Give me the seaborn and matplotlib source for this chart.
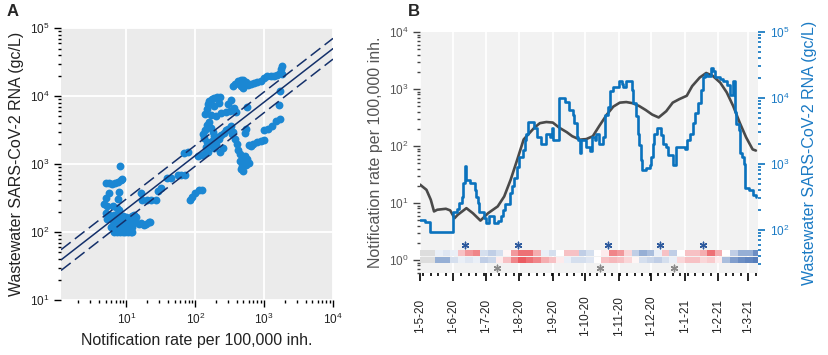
import numpy as np
import pandas as pd
import matplotlib
matplotlib.use("Agg")
import matplotlib.pyplot as plt
import matplotlib.dates as mdates
from matplotlib.colors import LinearSegmentedColormap
from matplotlib.ticker import LogLocator, LogFormatterMathtext, NullFormatter
import seaborn as sns

# ---- panel A: notification rate vs wastewater RNA ----
rate_a = [5.0, 5.6, 6.2, 6.9, 7.6, 8.3, 8.6, 8.0,
          7.7, 5.6, 5.1, 7.6, 4.8, 5.3, 6.4, 7.2, 7.9,
          5.0, 5.6, 6.0, 6.6, 7.3, 8.2, 9.0, 10, 11, 12, 13, 14,
          5.3, 6.1, 6.8, 7.5, 8.4, 9.4, 10.5, 11.5, 12.5, 13.5, 15, 16.5, 18, 19.5, 21, 22,
          6.0, 7.0, 8.0, 9.0, 10, 11, 12,
          6.5, 7.2, 8.0, 8.8, 9.6, 10.5, 11.5, 12.2,
          16.5, 17, 20, 23, 27, 29, 32, 39, 45, 56, 63, 70, 68, 78, 85, 90, 100, 113, 125,
          140, 150, 155, 160, 175, 190, 210, 230, 220, 190, 170, 200, 240, 280, 320, 300, 330, 360, 390,
          110, 125, 140, 145, 150, 135, 130, 140, 150, 160, 170, 180, 190, 175, 160, 200, 220, 240, 260,
          280, 300, 330, 350, 250, 230, 210, 190, 155,
          340, 380, 400, 420, 450, 480, 500, 470, 440, 520, 560, 600, 550, 500, 460, 600, 650, 700, 800,
          900, 1000, 520, 540, 560,
          1000, 1150, 1300, 1500, 1700, 1650, 1700,
          350, 380, 420, 460, 500, 540, 460, 500, 580, 640, 720, 800, 900, 1000, 1100, 1250, 1400, 1550,
          1700, 1750, 1800, 1800]
rna_a = [520, 520, 510, 520, 540, 580, 600, 950,
         390, 370, 320, 310, 260, 240, 240, 225, 210,
         190, 180, 170, 175, 165, 160, 170, 165, 160, 170, 175, 165,
         155, 150, 145, 140, 135, 140, 135, 130, 135, 140, 130, 135, 125, 130, 140, 140,
         120, 115, 120, 125, 115, 120, 118,
         100, 100, 100, 100, 100, 100, 100, 100,
         370, 295, 300, 295, 295, 400, 450, 620, 620, 690, 690, 680, 1450, 1480, 300, 330, 380, 410, 410,
         5500, 6500, 7600, 8500, 9000, 9500, 9800, 9600, 8000, 7200, 5200, 5100, 5600, 5800, 6000, 7600, 8600, 6600, 5800,
         1300, 1350, 1450, 1800, 2100, 2400, 2800, 3200, 3700, 4200, 3400, 3000, 2600, 2200, 1900, 2000, 2300, 2700, 2900,
         3200, 3300, 3600, 3000, 1700, 1500, 2500, 1700, 1500,
         2800, 2300, 2000, 1600, 1400, 1200, 1100, 950, 1100, 1300, 1200, 1050, 980, 800, 850, 1900, 1850, 1950, 2100,
         2200, 2250, 2900, 3300, 6900,
         3200, 3300, 3600, 4300, 4600, 7400, 12000,
         14000, 15000, 16500, 17500, 17000, 16000, 14000, 13000, 14500, 15000, 15500, 16000, 16500, 18500, 19500, 20000, 19500, 20500,
         22000, 25000, 28000, 21000]
# log-log fit: log10(rna) = intercept + slope * log10(rate), with CI offsets
fit_intercept = 1.55
fit_slope = 0.787
ci_up = 0.15
ci_low = -0.155

# ---- panel B: time series ----
notif_dates = ['2020-05-01', '2020-05-07', '2020-05-11', '2020-05-14', '2020-05-17', '2020-05-25',
               '2020-05-29', '2020-06-02', '2020-06-05', '2020-06-13', '2020-06-19', '2020-06-26',
               '2020-07-03', '2020-07-12', '2020-07-18', '2020-07-24', '2020-07-30', '2020-08-05',
               '2020-08-15', '2020-08-20', '2020-08-26', '2020-09-01', '2020-09-07', '2020-09-14',
               '2020-09-19', '2020-09-26', '2020-10-02', '2020-10-08', '2020-10-14', '2020-10-21',
               '2020-10-27', '2020-11-02', '2020-11-08', '2020-11-14', '2020-11-20', '2020-11-26',
               '2020-12-02', '2020-12-08', '2020-12-15', '2020-12-21', '2020-12-27', '2021-01-03',
               '2021-01-08', '2021-01-15', '2021-01-21', '2021-01-27', '2021-02-03', '2021-02-09',
               '2021-02-15', '2021-02-21', '2021-02-27', '2021-03-05', '2021-03-08']
notif_vals = [21, 17, 11.4, 7.1, 7.6, 7.9,
              7.4, 5.4, 6.2, 8.1, 6.6, 4.9,
              6.6, 8.7, 13, 25.7, 57, 130,
              210, 251, 263, 257, 209, 174,
              148, 129, 132, 148, 224, 355,
              490, 575, 589, 562, 501, 427,
              355, 316, 407, 575, 661, 759,
              1120, 1585, 1905, 1700, 1290, 871,
              501, 257, 141, 87, 83]

ww_dates = ['2020-05-01', '2020-05-06', '2020-05-10', '2020-06-01', '2020-06-04', '2020-06-06',
            '2020-06-09', '2020-06-10', '2020-06-12', '2020-06-13', '2020-06-16', '2020-06-21',
            '2020-06-22', '2020-06-24', '2020-06-25', '2020-06-29', '2020-07-01', '2020-07-04',
            '2020-07-09', '2020-07-12', '2020-07-15', '2020-07-17', '2020-07-19', '2020-07-23',
            '2020-07-25', '2020-07-27', '2020-07-30', '2020-08-01', '2020-08-04', '2020-08-06',
            '2020-08-07', '2020-08-09', '2020-08-15', '2020-08-17', '2020-08-21', '2020-08-26',
            '2020-08-29', '2020-08-31', '2020-09-01', '2020-09-07', '2020-09-12', '2020-09-16',
            '2020-09-20', '2020-09-21', '2020-09-23', '2020-09-24', '2020-09-26', '2020-09-27',
            '2020-10-02', '2020-10-05', '2020-10-07', '2020-10-10', '2020-10-11', '2020-10-14',
            '2020-10-17', '2020-10-19', '2020-10-22', '2020-10-24', '2020-10-27', '2020-11-01',
            '2020-11-04', '2020-11-05', '2020-11-08', '2020-11-13', '2020-11-14', '2020-11-17',
            '2020-11-19', '2020-11-20', '2020-11-22', '2020-11-23', '2020-11-26', '2020-11-30',
            '2020-12-01', '2020-12-03', '2020-12-04', '2020-12-06', '2020-12-10', '2020-12-12',
            '2020-12-15', '2020-12-17', '2020-12-21', '2020-12-23', '2020-12-24', '2021-01-01',
            '2021-01-03', '2021-01-06', '2021-01-09', '2021-01-11', '2021-01-13', '2021-01-16',
            '2021-01-18', '2021-01-20', '2021-01-22', '2021-01-25', '2021-01-27', '2021-01-29',
            '2021-02-03', '2021-02-06', '2021-02-09', '2021-02-12', '2021-02-15', '2021-02-17',
            '2021-02-18', '2021-02-20', '2021-02-21', '2021-02-23', '2021-02-25', '2021-02-26',
            '2021-03-02', '2021-03-05', '2021-03-08']
ww_vals = [141, 130, 94, 190, 205, 257,
           316, 513, 933, 575, 513, 407,
           316, 257, 190, 151, 126, 162,
           126, 135, 162, 200, 251, 363,
           457, 603, 912, 1290, 1620, 2290,
           2880, 4370, 3470, 2570, 2040, 2880,
           2570, 3470, 2290, 10000, 8710, 6610,
           5500, 4170, 2570, 2290, 1450, 2290,
           1820, 1550, 2570, 2290, 2880, 2000,
           2570, 5500, 7410, 12600, 14800, 17800,
           16200, 14800, 17800, 13200, 8320, 5250,
           2880, 1950, 1150, 813, 870, 950,
           1290, 2040, 2880, 3470, 2750, 2040,
           1820, 1380, 955, 955, 1820, 1700,
           2290, 2880, 4170, 5890, 8320, 13200,
           20900, 23400, 21400, 28200, 25700, 20900,
           19500, 17800, 15800, 11200, 17800, 6200,
           4000, 3300, 1480, 1260, 1000, 437,
           400, 340, 320]

# weekly cross-correlation strips (NaN = no data)
strip_start = '2020-05-01'
strip_top = [np.nan, np.nan, -0.1, -0.15, -0.1, 0.3, 0.5, 0.6, -0.2, -0.3,
             -0.2, 0.05, 0.5, 0.7, 0.7, 0.4, -0.1, -0.2, 0.0, 0.3,
             0.3, -0.3, -0.2, 0.0, 0.1, 0.6, 0.5, 0.2, -0.3, -0.5,
             -0.4, -0.1, 0.3, -0.3, 0.0, 0.3, 0.3, 0.4, 0.7, 0.4,
             0.0, -0.3, -0.5, -0.5, -0.7]
strip_bottom = [np.nan, np.nan, -0.5, -0.5, -0.2, -0.1, -0.15, -0.1, -0.3, -0.25,
                0.1, 0.3, 0.6, 0.8, 0.7, 0.6, 0.4, 0.3, 0.1, -0.1,
                -0.2, -0.2, -0.15, 0.0, 0.3, 0.35, 0.3, 0.2, 0.05, -0.2,
                -0.25, -0.3, -0.2, -0.1, 0.2, 0.3, 0.3, 0.2, 0.25, 0.1,
                -0.4, -0.6, -0.7, -0.75, -0.8]
star_blue_dates = ['2020-06-12', '2020-07-31', '2020-10-22', '2020-12-09', '2021-01-18']
star_gray_dates = ['2020-07-11', '2020-10-15', '2020-12-22']

# colours
c_scatter = '#1b87d3'
c_fit = '#14306a'
c_ww = '#0a72bd'
c_notif = '#4a4a4a'
c_label_ww = '#1a7ac4'

sns.set_theme(style="white")
plt.rcParams['font.family'] = ['Liberation Sans', 'DejaVu Sans']
plt.rcParams['xtick.direction'] = 'out'
plt.rcParams['ytick.direction'] = 'out'

fig = plt.figure(figsize=(8.29, 3.55), dpi=100)
axA = fig.add_axes([0.0736, 0.155, 0.3281, 0.766])
axB = fig.add_axes([0.5066, 0.231, 0.4078, 0.679])

# ---------- panel A ----------
axA.set_facecolor('#ebebeb')
sns.scatterplot(x=rate_a, y=rna_a, ax=axA, color=c_scatter, s=32,
                linewidth=0, zorder=3, legend=False)
axA.set_xscale('log')
axA.set_yscale('log')
axA.set_xlim(10 ** 0.05, 1e4)
axA.set_ylim(10, 1e5)
lx = np.log10(np.array(axA.get_xlim()))
fx = 10 ** lx
axA.plot(fx, 10 ** (fit_intercept + fit_slope * lx), color=c_fit, lw=1.1, zorder=4)
axA.plot(fx, 10 ** (fit_intercept + ci_up + fit_slope * lx), color=c_fit, lw=1.1,
         dashes=(8, 3.5), zorder=4)
axA.plot(fx, 10 ** (fit_intercept + ci_low + fit_slope * lx), color=c_fit, lw=1.1,
         dashes=(8, 3.5), zorder=4)
axA.grid(True, which='major', color='white', lw=1.3)
axA.set_axisbelow(True)
for s in axA.spines.values():
    s.set_visible(False)
for axis in (axA.xaxis, axA.yaxis):
    axis.set_major_locator(LogLocator(base=10))
    axis.set_minor_locator(LogLocator(base=10, subs=np.arange(2, 10)))
    axis.set_minor_formatter(NullFormatter())
axA.tick_params(which='major', length=5, width=1, color='black', labelsize=8.5,
                labelcolor='#222222', left=True, bottom=True)
axA.tick_params(which='minor', length=2.5, width=1, color='black', left=True, bottom=True)
axA.set_xlabel('Notification rate per 100,000 inh.', fontsize=11.5, color='#222222')
axA.set_ylabel('Wastewater SARS-CoV-2 RNA (gc/L)', fontsize=11.5, color='#222222')
fig.text(0.008, 0.955, 'A', fontsize=12, fontweight='bold')

# ---------- panel B ----------
axB.set_facecolor('#f2f2f2')
notif = pd.DataFrame({'date': pd.to_datetime(notif_dates), 'val': notif_vals})
ww = pd.DataFrame({'date': pd.to_datetime(ww_dates), 'val': ww_vals})

ax2 = axB.twinx()
sns.lineplot(data=notif, x='date', y='val', ax=axB, color=c_notif, lw=1.9, zorder=3)
sns.lineplot(data=ww, x='date', y='val', ax=ax2, color=c_ww, lw=1.9,
             drawstyle='steps-post', zorder=3)
axB.set_yscale('log')
ax2.set_yscale('log')
axB.set_ylim(10 ** -0.229, 1e4)
ax2.set_ylim(10 ** 1.348, 1e5)
xlo, xhi = pd.Timestamp('2020-05-01'), pd.Timestamp('2021-03-10')
axB.set_xlim(xlo, xhi)

# correlation strips
cmap = LinearSegmentedColormap.from_list('strip', ['#2d5eab', '#ffffff', '#e6333b'])
cmap.set_bad('#dddddd')
edges = mdates.date2num(pd.date_range(strip_start, periods=len(strip_top) + 1, freq='7D'))
axB.pcolormesh(edges, [1.19, 1.47], np.ma.masked_invalid([strip_top]),
               cmap=cmap, vmin=-1, vmax=1, zorder=2)
axB.pcolormesh(edges, [0.87, 1.11], np.ma.masked_invalid([strip_bottom]),
               cmap=cmap, vmin=-1, vmax=1, zorder=2)
axB.scatter(pd.to_datetime(star_blue_dates), [1.8] * len(star_blue_dates),
            marker=(6, 2, 0), s=22, linewidths=1.0, color='#2d5a9e', zorder=4)
axB.scatter(pd.to_datetime(star_gray_dates), [0.71] * len(star_gray_dates),
            marker=(6, 2, 0), s=22, linewidths=1.0, color='#8a8a8a', zorder=4)
axB.set_xlim(xlo, xhi)

axB.xaxis.set_major_locator(mdates.MonthLocator(bymonthday=1))
axB.xaxis.set_minor_locator(mdates.WeekdayLocator(byweekday=mdates.MO))
axB.xaxis.set_major_formatter(mdates.DateFormatter('%-d-%-m-%y'))
axB.grid(True, axis='x', which='major', color='white', lw=1.3)
axB.set_axisbelow(True)
for a in (axB, ax2):
    for s in a.spines.values():
        s.set_visible(False)
    a.yaxis.set_major_locator(LogLocator(base=10))
    a.yaxis.set_minor_locator(LogLocator(base=10, subs=np.arange(2, 10)))
    a.yaxis.set_minor_formatter(NullFormatter())
    a.yaxis.set_major_formatter(LogFormatterMathtext())
ax2.grid(False)
ax2.patch.set_visible(False)

axB.tick_params(axis='x', which='major', length=6, width=1.2, color='black', pad=25,
                labelsize=8.5, labelrotation=90, labelcolor='#222222', bottom=True)
axB.tick_params(axis='x', which='minor', length=2.5, width=1.2, color='black', bottom=True)
plt.setp(axB.get_xticklabels(), va='center')
axB.tick_params(axis='y', which='major', length=5, width=1, color='#444444',
                labelsize=8.5, labelcolor='#555555', left=True)
axB.tick_params(axis='y', which='minor', length=2.5, width=1, color='#444444', left=True)
ax2.tick_params(axis='y', which='major', length=5, width=1.2, color=c_ww,
                labelsize=8.5, labelcolor=c_label_ww, right=True)
ax2.tick_params(axis='y', which='minor', length=2.5, width=1.2, color=c_ww, right=True)

axB.set_xlabel('')
axB.set_ylabel('Notification rate per 100,000 inh.', fontsize=11.5, color='#555555')
ax2.set_ylabel('Wastewater SARS-CoV-2 RNA (gc/L)', fontsize=11.5, color=c_label_ww,
               labelpad=9)
fig.text(0.492, 0.955, 'B', fontsize=12, fontweight='bold')

fig.savefig('out.png', dpi=100)
